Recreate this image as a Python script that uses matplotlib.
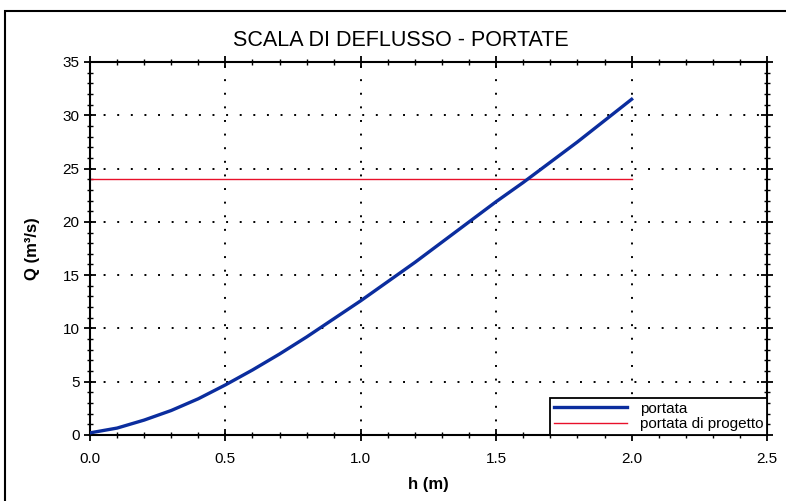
import matplotlib
matplotlib.use("Agg")
import matplotlib.pyplot as plt
from matplotlib.patches import Rectangle
from matplotlib.ticker import MultipleLocator

h_values = [0.0, 0.1, 0.2, 0.3, 0.4, 0.5, 0.6, 0.7, 0.8, 0.9, 1.0,
            1.1, 1.2, 1.3, 1.4, 1.5, 1.6, 1.7, 1.8, 1.9, 2.0]
q_values = [0.2, 0.65, 1.4, 2.3, 3.4, 4.7, 6.1, 7.6, 9.2, 10.9, 12.6,
            14.4, 16.2, 18.1, 20.0, 21.9, 23.7, 25.6, 27.5, 29.5, 31.5]
q_design = 24.0
h_design = [0.0, 2.0]

title = "SCALA DI DEFLUSSO - PORTATE"
xlabel = "h (m)"
ylabel = "Q (m³/s)"
legend_labels = ["portata", "portata di progetto"]

plt.rcParams['font.family'] = ['Liberation Sans', 'DejaVu Sans']

fig = plt.figure(figsize=(7.86, 5.01), dpi=100)
ax = fig.add_axes([90/786, 1-435/501, (767-90)/786, (435-62)/501])

ax.plot(h_values, q_values, color='#0b2d9e', lw=2.4, label=legend_labels[0], zorder=3)
ax.plot(h_design, [q_design, q_design], color='#e8102a', lw=1.0, label=legend_labels[1], zorder=2)

ax.set_xlim(0, 2.5)
ax.set_ylim(0, 35)
ax.xaxis.set_major_locator(MultipleLocator(0.5))
ax.xaxis.set_minor_locator(MultipleLocator(0.1))
ax.yaxis.set_major_locator(MultipleLocator(5))
ax.yaxis.set_minor_locator(MultipleLocator(1))
ax.xaxis.set_major_formatter(matplotlib.ticker.FormatStrFormatter('%.1f'))
ax.tick_params(which='major', direction='inout', length=8, width=1.3,
               top=True, right=True, labelsize=11, colors='black')
ax.tick_params(which='minor', direction='inout', length=5, width=1.0,
               top=True, right=True)
ax.tick_params(axis='x', pad=8)
ax.grid(True, which='major', color='black', linestyle=(0, (1, 6)), lw=1.4)
for s in ax.spines.values():
    s.set_linewidth(1.5)

ax.set_xlabel(xlabel, fontsize=12, fontweight='bold', labelpad=8)
ax.set_ylabel(ylabel, fontsize=12, fontweight='bold', labelpad=16)

fig.text(0.51, 1-40/501, title, ha='center', va='center', fontsize=15.5)

leg = ax.legend(loc='lower right', borderaxespad=0, fancybox=False,
                edgecolor='black', fontsize=11, handlelength=4.8,
                borderpad=0.25, labelspacing=0.1, framealpha=1)
leg.get_frame().set_linewidth(1.3)

fig.patches.append(Rectangle((5/786, -0.05), 1.1, 1-11/501+0.05, transform=fig.transFigure,
                             fill=False, edgecolor='black', lw=1.5))

fig.savefig("out.png", dpi=100)
